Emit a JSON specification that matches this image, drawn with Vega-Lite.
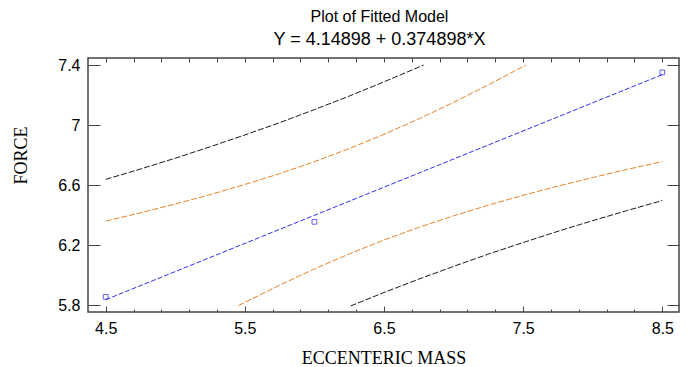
{
  "$schema": "https://vega.github.io/schema/vega-lite/v6.json",
  "width": 591,
  "height": 254,
  "autosize": {"type": "none"},
  "padding": {"left": 88, "top": 58, "right": 9, "bottom": 55},
  "background": "white",
  "title": {
    "text": "Plot of Fitted Model",
    "subtitle": "Y = 4.14898 + 0.374898*X",
    "anchor": "middle",
    "dx": -4,
    "font": "Liberation Sans",
    "fontSize": 16,
    "fontWeight": "normal",
    "color": "black",
    "subtitleFont": "Liberation Sans",
    "subtitleFontSize": 18,
    "subtitleColor": "black",
    "offset": 8,
    "subtitlePadding": 6
  },
  "config": {
    "view": {"stroke": "#444", "strokeWidth": 1.5},
    "axis": {
      "grid": false,
      "domain": false,
      "tickColor": "#444",
      "tickWidth": 1,
      "labelFont": "Liberation Sans",
      "labelFontSize": 16,
      "labelColor": "black",
      "titleFont": "Liberation Serif",
      "titleFontSize": 18,
      "titleFontWeight": "normal",
      "titleColor": "black"
    }
  },
  "datasets": {
    "bands": [
      {"curve": "pred_up", "x": 4.5, "y": 6.638},
      {"curve": "pred_up", "x": 4.75, "y": 6.707},
      {"curve": "pred_up", "x": 5.0, "y": 6.779},
      {"curve": "pred_up", "x": 5.25, "y": 6.855},
      {"curve": "pred_up", "x": 5.5, "y": 6.934},
      {"curve": "pred_up", "x": 5.75, "y": 7.016},
      {"curve": "pred_up", "x": 6.0, "y": 7.103},
      {"curve": "pred_up", "x": 6.25, "y": 7.193},
      {"curve": "pred_up", "x": 6.5, "y": 7.288},
      {"curve": "pred_up", "x": 6.75, "y": 7.386},
      {"curve": "pred_up", "x": 6.785, "y": 7.4},
      {"curve": "conf_up", "x": 4.5, "y": 6.36},
      {"curve": "conf_up", "x": 4.75, "y": 6.415},
      {"curve": "conf_up", "x": 5.0, "y": 6.474},
      {"curve": "conf_up", "x": 5.25, "y": 6.536},
      {"curve": "conf_up", "x": 5.5, "y": 6.604},
      {"curve": "conf_up", "x": 5.75, "y": 6.676},
      {"curve": "conf_up", "x": 6.0, "y": 6.756},
      {"curve": "conf_up", "x": 6.25, "y": 6.843},
      {"curve": "conf_up", "x": 6.5, "y": 6.938},
      {"curve": "conf_up", "x": 6.75, "y": 7.041},
      {"curve": "conf_up", "x": 7.0, "y": 7.151},
      {"curve": "conf_up", "x": 7.25, "y": 7.268},
      {"curve": "conf_up", "x": 7.5, "y": 7.39},
      {"curve": "conf_up", "x": 7.52, "y": 7.4},
      {"curve": "conf_lo", "x": 5.455, "y": 5.797},
      {"curve": "conf_lo", "x": 5.5, "y": 5.818},
      {"curve": "conf_lo", "x": 5.75, "y": 5.933},
      {"curve": "conf_lo", "x": 6.0, "y": 6.041},
      {"curve": "conf_lo", "x": 6.25, "y": 6.141},
      {"curve": "conf_lo", "x": 6.5, "y": 6.234},
      {"curve": "conf_lo", "x": 6.75, "y": 6.318},
      {"curve": "conf_lo", "x": 7.0, "y": 6.395},
      {"curve": "conf_lo", "x": 7.25, "y": 6.466},
      {"curve": "conf_lo", "x": 7.5, "y": 6.532},
      {"curve": "conf_lo", "x": 7.75, "y": 6.593},
      {"curve": "conf_lo", "x": 8.0, "y": 6.65},
      {"curve": "conf_lo", "x": 8.25, "y": 6.705},
      {"curve": "conf_lo", "x": 8.5, "y": 6.757},
      {"curve": "pred_lo", "x": 6.26, "y": 5.794},
      {"curve": "pred_lo", "x": 6.5, "y": 5.884},
      {"curve": "pred_lo", "x": 6.75, "y": 5.973},
      {"curve": "pred_lo", "x": 7.0, "y": 6.058},
      {"curve": "pred_lo", "x": 7.25, "y": 6.14},
      {"curve": "pred_lo", "x": 7.5, "y": 6.217},
      {"curve": "pred_lo", "x": 7.75, "y": 6.292},
      {"curve": "pred_lo", "x": 8.0, "y": 6.363},
      {"curve": "pred_lo", "x": 8.25, "y": 6.431},
      {"curve": "pred_lo", "x": 8.5, "y": 6.497}
    ],
    "fit": [
      {"x": 4.5, "y": 5.836},
      {"x": 8.5, "y": 7.336}
    ],
    "obs": [
      {"x": 4.5, "y": 5.855},
      {"x": 6.0, "y": 6.355},
      {"x": 8.5, "y": 7.351}
    ]
  },
  "resolve": {"axis": {"x": "independent", "y": "independent"}},
  "layer": [
    {
      "data": {"name": "bands"},
      "mark": {"type": "line", "strokeWidth": 1, "strokeDash": [6, 2]},
      "encoding": {
        "x": {
          "field": "x", "type": "quantitative",
          "scale": {"domain": [4.373, 8.62], "nice": false, "zero": false},
          "axis": {
            "orient": "bottom",
            "values": [4.5, 5.5, 6.5, 7.5, 8.5],
            "format": ".1f",
            "tickSize": -6,
            "labelPadding": 14,
            "title": "ECCENTERIC MASS",
            "titleY": 51,
            "titleBaseline": "alphabetic"
          }
        },
        "y": {
          "field": "y", "type": "quantitative",
          "scale": {"domain": [5.754, 7.447], "nice": false, "zero": false},
          "axis": {
            "orient": "left",
            "values": [5.8, 6.2, 6.6, 7, 7.4],
            "labelExpr": "format(datum.value, '~g')",
            "tickSize": -12,
            "labelPadding": 20,
            "title": "FORCE",
            "titleX": -62,
            "titleY": 97,
            "titleBaseline": "alphabetic"
          }
        },
        "color": {
          "field": "curve", "type": "nominal",
          "scale": {"domain": ["pred_up", "pred_lo", "conf_up", "conf_lo"], "range": ["#1a1a1a", "#1a1a1a", "#E8832A", "#E8832A"]},
          "legend": null
        }
      }
    },
    {
      "data": {"name": "fit"},
      "mark": {"type": "line", "strokeWidth": 1, "strokeDash": [5, 2], "color": "#3030F0"},
      "encoding": {
        "x": {
          "field": "x", "type": "quantitative",
          "scale": {"domain": [4.373, 8.62], "nice": false, "zero": false},
          "axis": {
            "orient": "bottom",
            "values": [4.7, 4.9, 5.1, 5.3, 5.7, 5.9, 6.1, 6.3, 6.7, 6.9, 7.1, 7.3, 7.7, 7.9, 8.1, 8.3],
            "labels": false,
            "tickSize": -3,
            "title": null
          }
        },
        "y": {
          "field": "y", "type": "quantitative",
          "scale": {"domain": [5.754, 7.447], "nice": false, "zero": false},
          "axis": null
        }
      }
    },
    {
      "data": {"name": "obs"},
      "mark": {"type": "point", "shape": "square", "filled": false, "size": 22, "strokeWidth": 1, "color": "#2020F0"},
      "encoding": {
        "x": {
          "field": "x", "type": "quantitative",
          "scale": {"domain": [4.373, 8.62], "nice": false, "zero": false},
          "axis": {
            "orient": "top",
            "values": [4.5, 4.7, 4.9, 5.1, 5.3, 5.5, 5.7, 5.9, 6.1, 6.3, 6.5, 6.7, 6.9, 7.1, 7.3, 7.5, 7.7, 7.9, 8.1, 8.3, 8.5],
            "labels": false,
            "tickSize": -4,
            "title": null
          }
        },
        "y": {
          "field": "y", "type": "quantitative",
          "scale": {"domain": [5.754, 7.447], "nice": false, "zero": false},
          "axis": {
            "orient": "right",
            "values": [5.8, 6.2, 6.6, 7, 7.4],
            "labels": false,
            "tickSize": -12,
            "title": null
          }
        }
      }
    }
  ]
}
